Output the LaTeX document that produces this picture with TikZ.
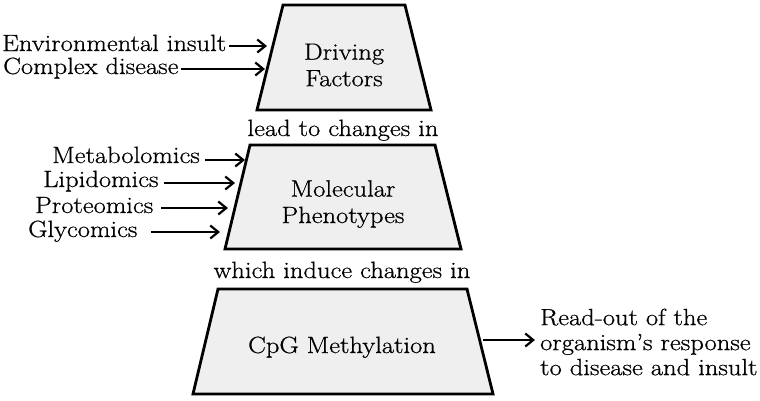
\documentclass[tikz,border=0pt]{standalone}
\usepackage{fontspec}
\setmainfont{Latin Modern Roman}[FakeStretch=1.13,FakeBold=0.7]
\usetikzlibrary{arrows.meta}
\definecolor{trapfill}{HTML}{EFEFEF}
\begin{document}
\begin{tikzpicture}[x=1pt,y=-1pt,
  trap/.style={draw=black,line width=2.8pt,fill=trapfill,line join=miter},
  lbl/.style={inner sep=0pt,font=\fontsize{23.5}{26.5}\selectfont},
  arr/.style={line width=2.2pt,-{Straight Barb[length=8pt,width=13pt]}}]
\useasboundingbox (0,0) rectangle (760,400);

% trapezoids
\draw[trap] (283,5) -- (405,5) -- (431,110) -- (257,110) -- cycle;
\draw[trap] (250,145) -- (435,145) -- (461,249) -- (225,249) -- cycle;
\draw[trap] (218,289) -- (467,289) -- (493,394) -- (193,394) -- cycle;

\node[lbl,align=center] (df) at (344,65) {Driving\\Factors};
\node[lbl,align=center] (mp) at (343,204) {Molecular\\Phenotypes};
\node[lbl,anchor=base] (cpg) at (342,353) {CpG Methylation};

\node[lbl,anchor=base] (lead) at (343,136) {lead to changes in};
\node[lbl,anchor=base] (which) at (342,278) {which induce changes in};

% left labels
\node[lbl,anchor=base west] (env) at (2,51) {Environmental insult};
\node[lbl,anchor=base west] (cd) at (3,74) {Complex disease};
\node[lbl,anchor=base west] (met) at (52,163) {Metabolomics};
\node[lbl,anchor=base west] (lip) at (43,187) {Lipidomics};
\node[lbl,anchor=base west] (pro) at (35,213) {Proteomics};
\node[lbl,anchor=base west] (gly) at (28,237) {Glycomics};

\coordinate (e1) at (267,46);
\coordinate (e2) at (265,69);
\coordinate (e3) at (245,160);
\coordinate (e4) at (235,183);
\coordinate (e5) at (228,208);
\coordinate (e6) at (220,232);

\draw[arr] ([xshift=3pt]env.east |- e1) -- (e1);
\draw[arr] ([xshift=2pt]cd.east |- e2) -- (e2);
\draw[arr] ([xshift=5pt]met.east |- e3) -- (e3);
\draw[arr] ([xshift=5pt]lip.east |- e4) -- (e4);
\draw[arr] ([xshift=8pt]pro.east |- e5) -- (e5);
\draw[arr] ([xshift=13pt]gly.east |- e6) -- (e6);

% output
\coordinate (o1) at (483,340);
\coordinate (o2) at (535,340);
\node[lbl,align=left,anchor=west,font=\fontsize{23.5}{25}\selectfont] (ro) at (540,342) {Read-out of the\\organism's response\\to disease and insult};
\draw[arr] (o1) -- (o2);
\end{tikzpicture}
\end{document}
